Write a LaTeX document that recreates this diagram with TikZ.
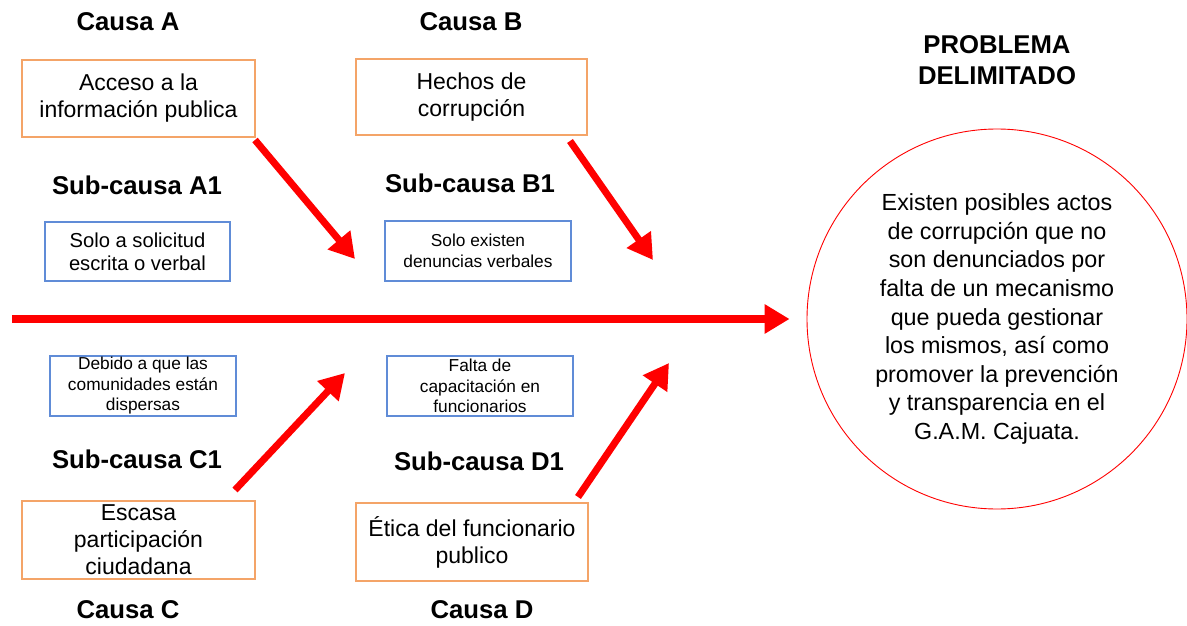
\documentclass[tikz,border=0pt]{standalone}
\usepackage{fontspec}
\setmainfont{Liberation Sans}
\usepackage{tikz}
\usetikzlibrary{positioning, arrows.meta}
\usepackage{xcolor}
\definecolor{causeorange}{RGB}{244,164,104}
\definecolor{subblue}{RGB}{96,140,215}
\definecolor{bonered}{RGB}{255,0,0}

\begin{document}
\begin{tikzpicture}[x=1pt, y=-1pt,
                >={Triangle[length=25pt, width=28pt]}]

                % Define the styles
                \tikzset{head/.style={font=\fontsize{25.7}{31}\selectfont\bfseries, align=center, inner sep=0pt},
                         causebox/.style={draw=causeorange, line width=1.3pt, inner sep=0pt, align=center,
                                          minimum width=233pt, minimum height=77pt,
                                          font=\fontsize{23}{27}\selectfont},
                         subbox/.style={draw=subblue, line width=1.2pt, inner sep=0pt, align=center,
                                        minimum width=186pt, minimum height=60pt,
                                        font=\fontsize{17.3}{20.5}\selectfont},
                         bone/.style={->, draw=bonered, line width=7pt},
                         spine/.style={->, draw=bonered, line width=8pt}}

                \useasboundingbox (0,0) rectangle (1187,626);

                % Upper causes
                \node[causebox] (causeA) at (138.5,98.5) {Acceso a la\\información publica};
                \node[head] (titleA) at (128,22) {Causa A};
                \node[head] (subtitleA) at (137,185) {Sub-causa A1};
                \node[subbox, minimum width=185pt, minimum height=59pt,
                      font=\fontsize{20.2}{23}\selectfont] (subA) at (137.5,251.5) {Solo a solicitud\\escrita o verbal};

                \node[causebox, minimum width=231pt, minimum height=76pt] (causeB) at (471.5,97) {Hechos de\\corrupción};
                \node[head] (titleB) at (471,22) {Causa B};
                \node[head] (subtitleB) at (470,183) {Sub-causa B1};
                \node[subbox] (subB) at (478,251) {Solo existen\\denuncias verbales};

                % Lower causes
                \node[subbox] (subC) at (143,386) {Debido a que las\\comunidades están\\dispersas};
                \node[head] (subtitleC) at (137,459) {Sub-causa C1};
                \node[causebox, minimum height=78pt] (causeC) at (138.5,540) {Escasa\\participación\\ciudadana};
                \node[head] (titleC) at (128,610) {Causa C};

                \node[subbox] (subD) at (480,386) {Falta de\\capacitación en\\funcionarios};
                \node[head] (subtitleD) at (479,461) {Sub-causa D1};
                \node[causebox, minimum width=232pt, minimum height=78pt] (causeD) at (472,542) {Ética del funcionario\\publico};
                \node[head] (titleD) at (482,610) {Causa D};

                % Problem
                \node[circle, draw=bonered, line width=0.9pt, minimum size=380pt, inner sep=0pt, align=center,
                      font=\fontsize{23.3}{28.6}\selectfont] (problem) at (997,319)
                      {Existen posibles actos\\de corrupción que no\\son denunciados por\\falta de un mecanismo\\que pueda gestionar\\los mismos, así como\\promover la prevención\\y transparencia en el\\G.A.M. Cajuata.};
                \node[head] (problemtitle) at (997,60) {PROBLEMA\\DELIMITADO};

                % Bone ends
                \coordinate (spinestart) at (12,319);
                \coordinate (tailA) at (255,140);
                \coordinate (tipA) at (355,259);
                \coordinate (tailB) at (570,141);
                \coordinate (tipB) at (653,260);
                \coordinate (tailC) at (235,490);
                \coordinate (tipC) at (345,373);
                \coordinate (tailD) at (578,497);
                \coordinate (tipD) at (669,363);

                % Paths
                \draw[spine, shorten >=17pt] (spinestart) -- (problem.west);
                \draw[bone] (tailA) -- (tipA);
                \draw[bone] (tailB) -- (tipB);
                \draw[bone] (tailC) -- (tipC);
                \draw[bone] (tailD) -- (tipD);
            \end{tikzpicture}
\end{document}
